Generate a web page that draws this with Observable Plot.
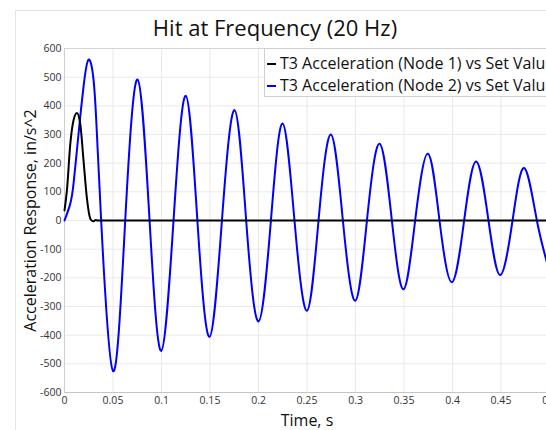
<!DOCTYPE html>
<html>
<head>
<meta charset="utf-8">
<script src="https://cdn.jsdelivr.net/npm/d3@7"></script>
<script src="https://cdn.jsdelivr.net/npm/@observablehq/plot@0.6"></script>
<style>
  html, body { margin: 0; padding: 0; background: #fff; overflow: hidden; }
  #wrap { position: relative; width: 600px; height: 430px; font-family: "Open Sans", sans-serif; }
  #outer { position: absolute; left: 15px; top: 10px; width: 700px; height: 500px; border: 1px solid #e3e3e3; box-sizing: border-box; }
  #title { position: absolute; left: 0; width: 550px; top: 12px; text-align: center; font-size: 22px; color: #111; white-space: nowrap; }
  #chart { position: absolute; left: 0; top: 0; }
  #legend { position: absolute; left: 264px; top: 48px; width: 400px; height: 49px; box-sizing: border-box; border: 1px solid #cfcfcf; background: #fff; }
  .row { position: absolute; left: 2px; height: 20px; line-height: 20px; font-size: 16px; color: #111; white-space: nowrap; }
  .row span.sw { display: inline-block; width: 9px; height: 2px; vertical-align: middle; margin-right: 4px; position: relative; top: -1px; }
</style>
</head>
<body>
<div id="wrap">
  <div id="outer"></div>
  <div id="chart"></div>
  <div id="title"></div>
  <div id="legend"></div>
</div>
<script>
// ---- data ----
const chartTitle = "Hit at Frequency (20 Hz)";
const xLabel = "Time, s";
const yLabel = "Acceleration Response, in/s^2";
const seriesNames = ["T3 Acceleration (Node 1) vs Set Value", "T3 Acceleration (Node 2) vs Set Value"];
const seriesColors = ["#000000", "#0000ff"];

// Node 1 (black) — short pulse then flat zero
const tNode1 = [0, 0.0025, 0.006, 0.0093, 0.0128, 0.0162, 0.0196, 0.023, 0.0265, 0.028, 0.030, 0.032, 0.034, 0.1, 0.2, 0.3, 0.4, 0.5];
const vNode1 = [35, 105, 268, 350, 375, 338, 210, 81, 7, 0, -3, 2, 0, 0, 0, 0, 0, 0];

// Node 2 (blue) — decaying 20 Hz oscillation
const tNode2 = [0, 0.0059, 0.0093, 0.0128, 0.0162, 0.0196, 0.0245, 0.030, 0.0334, 0.0378,
  0.050, 0.0626, 0.0753, 0.0877, 0.0997, 0.1124, 0.125, 0.137, 0.1495, 0.1623,
  0.1753, 0.1873, 0.200, 0.2128, 0.2248, 0.2371, 0.2499, 0.2619, 0.2746, 0.287,
  0.2997, 0.3118, 0.3248, 0.3375, 0.3495, 0.3615, 0.3746, 0.3866, 0.3994, 0.412,
  0.4244, 0.4371, 0.4492, 0.4619, 0.4739, 0.487, 0.4995];
const vNode2 = [0, 58, 128, 245, 361, 466, 560, 489, 303, 0,
  -525, 0, 492, 0, -455, 0, 435, 0, -406, 0,
  385, 0, -352, 0, 338, 0, -315, 0, 300, 0,
  -280, 0, 268, 0, -240, 0, 233, 0, -215, 0,
  206, 0, -190, 0, 183, 0, -172];

const xTicks = [0, 0.05, 0.1, 0.15, 0.2, 0.25, 0.3, 0.35, 0.4, 0.45, 0.5];
const xTickLabels = ["0", "0.05", "0.1", "0.15", "0.2", "0.25", "0.3", "0.35", "0.4", "0.45", "0.5"];
const yTicks = [-600, -500, -400, -300, -200, -100, 0, 100, 200, 300, 400, 500, 600];
const yTickLabels = ["-600", "-500", "-400", "-300", "-200", "-100", "0", "100", "200", "300", "400", "500", "600"];

// ---- build ----
const node1 = tNode1.map((t, i) => ({t, v: vNode1[i]}));
const node2 = tNode2.map((t, i) => ({t, v: vNode2[i]}));
const xFmt = new Map(xTicks.map((d, i) => [d, xTickLabels[i]]));
const yFmt = new Map(yTicks.map((d, i) => [d, yTickLabels[i]]));

const plot = Plot.plot({
  width: 600,
  height: 430,
  marginLeft: 64,
  marginTop: 48,
  marginBottom: 38,
  marginRight: 51,
  style: {fontFamily: "'Open Sans', sans-serif", fontSize: "10px", color: "#333", background: "transparent"},
  x: {domain: [0, 0.5]},
  y: {domain: [-600, 600]},
  marks: [
    Plot.gridX(xTicks, {stroke: "#e9e9e9", strokeOpacity: 1}),
    Plot.gridY(yTicks, {stroke: "#e9e9e9", strokeOpacity: 1}),
    Plot.frame({stroke: "#d4d4d4"}),
    Plot.ruleY([-600], {stroke: "#c4c4c4"}),
    Plot.ruleX([0], {stroke: "#cfcfcf"}),
    Plot.axisX(xTicks, {tickSize: 0, tickPadding: 4, tickFormat: d => xFmt.get(d), label: null, fontSize: 10.5}),
    Plot.axisY(yTicks, {tickSize: 0, tickPadding: 3, tickFormat: d => yFmt.get(d), label: null, fontSize: 10.5}),
    Plot.line(node2, {x: "t", y: "v", stroke: seriesColors[1], strokeWidth: 2, curve: "natural"}),
    Plot.line(node1, {x: "t", y: "v", stroke: seriesColors[0], strokeWidth: 2, curve: "monotone-x"}),
    Plot.text([yLabel], {frameAnchor: "left", textAnchor: "middle", lineAnchor: "middle", dx: -34, rotate: -90, fontSize: 16, fill: "#111"}),
    Plot.text([xLabel], {frameAnchor: "bottom", textAnchor: "middle", lineAnchor: "middle", dy: 28, fontSize: 16, fill: "#111"})
  ]
});
document.getElementById("chart").appendChild(plot);
document.getElementById("title").textContent = chartTitle;

const legend = document.getElementById("legend");
seriesNames.forEach((name, i) => {
  const row = document.createElement("div");
  row.className = "row";
  row.style.top = (i === 0 ? 4 : 26) + "px";
  const sw = document.createElement("span");
  sw.className = "sw";
  sw.style.background = seriesColors[i];
  row.appendChild(sw);
  row.appendChild(document.createTextNode(name));
  legend.appendChild(row);
});
</script>
</body>
</html>
